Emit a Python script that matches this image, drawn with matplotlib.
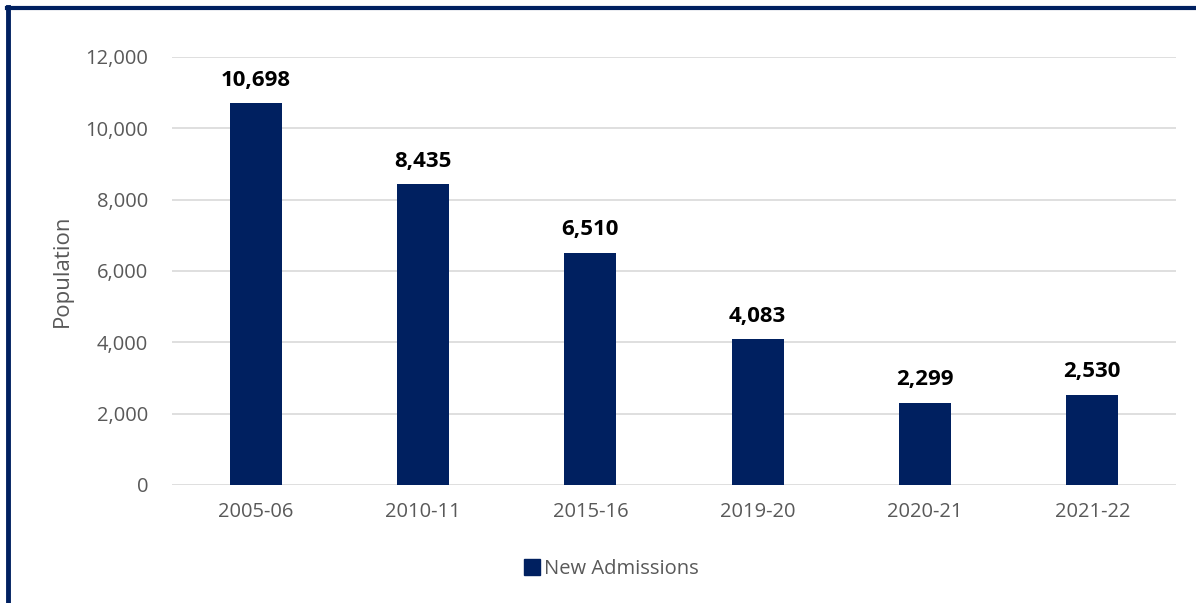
import matplotlib

matplotlib.use("Agg")
import matplotlib.pyplot as plt
from matplotlib.lines import Line2D

years = ["2005-06", "2010-11", "2015-16", "2019-20", "2020-21", "2021-22"]
admissions = [10698, 8435, 6510, 4083, 2299, 2530]

NAVY = "#002060"
GREY = "#595959"

plt.rcParams["font.family"] = ["Open Sans", "DejaVu Sans"]

fig = plt.figure(figsize=(11.96, 6.03), dpi=100)
ax = fig.add_axes([0.1438, 0.1957, 0.8395, 0.7098])

x = range(len(years))
bars = ax.bar(x, admissions, width=0.31, color=NAVY, label="New Admissions", zorder=3)
ax.bar_label(bars, labels=[f"{v:,}" for v in admissions], padding=9,
             fontsize=16, fontweight="bold", color="black")

ax.set_xlim(-0.5, len(years) - 0.5)
ax.set_ylim(0, 12000)
ax.set_yticks(range(0, 12001, 2000))
ax.set_yticklabels([f"{v:,}" for v in range(0, 12001, 2000)])
ax.set_xticks(list(x))
ax.set_xticklabels(years)
ax.tick_params(axis="both", length=0, labelsize=14.5, labelcolor=GREY)
ax.tick_params(axis="x", pad=12)
ax.tick_params(axis="y", pad=17)
ax.grid(axis="y", color="#d9d9d9", linewidth=1.2, zorder=0)
for s in ax.spines.values():
    s.set_visible(False)
ax.set_ylabel("Population", fontsize=16, color=GREY, labelpad=9)

handle = Line2D([], [], marker="s", color="none", markerfacecolor=NAVY,
                markeredgecolor=NAVY, markersize=11)
fig.legend([handle], ["New Admissions"], loc="center", bbox_to_anchor=(0.51, 0.057),
           frameon=False, fontsize=14.5, labelcolor=GREY, handletextpad=0.1,
           handlelength=1.0)

# outer frame (top and left edges visible in the crop)
fig.add_artist(Line2D([0.006, 1.0], [0.986, 0.986], color=NAVY, linewidth=3,
                      transform=fig.transFigure))
fig.add_artist(Line2D([0.007, 0.007], [0.0, 0.988], color=NAVY, linewidth=3.5,
                      transform=fig.transFigure))

fig.savefig("out.png", dpi=100)
